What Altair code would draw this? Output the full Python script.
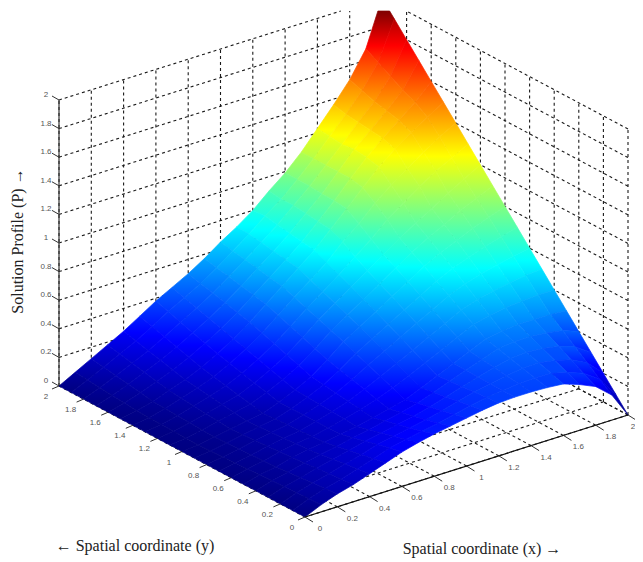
import altair as alt

# axis tick values
ticks = [0, 0.2, 0.4, 0.6, 0.8, 1, 1.2, 1.4, 1.6, 1.8, 2]
tick_text = ["0", "0.2", "0.4", "0.6", "0.8", "1", "1.2", "1.4", "1.6", "1.8", "2"]
# mesh coordinates
mesh_x = [i / 10 for i in range(21)]
mesh_y = [i / 10 for i in range(21)]
# P(x, y): one row per y, one value per x
row_00 = [0, .05, .09, .12, .16, .20, .24, .27, .295, .315, .335, .355, .37, .375, .375, .37, .36, .32, .27, .175, 0]
row_01 = [0, .046, .082, .112, .148, .183, .223, .247, .268, .289, .315, .34, .362, .376, .386, .392, .388, .358, .318, .242, .10]
row_02 = [0, .042, .074, .104, .136, .166, .201, .224, .246, .268, .295, .325, .354, .377, .397, .414, .416, .396, .366, .309, .20]
row_03 = [0, .038, .066, .096, .124, .149, .179, .201, .224, .247, .275, .31, .346, .378, .408, .436, .444, .434, .414, .376, .30]
row_04 = [0, .034, .058, .088, .112, .132, .157, .178, .202, .226, .255, .295, .338, .379, .419, .458, .472, .472, .462, .443, .40]
row_05 = [0, .03, .05, .08, .10, .115, .135, .155, .18, .205, .235, .28, .33, .38, .43, .48, .50, .51, .51, .51, .50]
row_06 = [0, .026, .046, .074, .094, .11, .134, .16, .192, .228, .27, .32, .374, .428, .482, .536, .564, .582, .592, .60, .60]
row_07 = [0, .022, .042, .068, .088, .105, .133, .165, .204, .251, .305, .36, .418, .476, .534, .592, .628, .654, .674, .69, .70]
row_08 = [0, .018, .038, .062, .082, .10, .132, .17, .216, .274, .34, .40, .462, .524, .586, .648, .692, .726, .756, .78, .80]
row_09 = [0, .014, .034, .056, .076, .095, .131, .175, .228, .297, .375, .44, .506, .572, .638, .704, .756, .798, .838, .87, .90]
row_10 = [0, .01, .03, .05, .07, .09, .13, .18, .24, .32, .41, .48, .55, .62, .69, .76, .82, .87, .92, .96, 1.0]
row_11 = [0, .012, .034, .058, .082, .108, .152, .206, .27, .352, .442, .516, .59, .664, .738, .812, .878, .936, 1.0, 1.048, 1.10]
row_12 = [0, .014, .038, .066, .094, .126, .174, .232, .30, .384, .474, .552, .63, .708, .786, .864, .936, 1.002, 1.072, 1.136, 1.20]
row_13 = [0, .016, .042, .074, .106, .144, .196, .258, .33, .416, .506, .588, .67, .76, .85, .95, 1.03, 1.11, 1.18, 1.24, 1.30]
row_14 = [0, .018, .046, .082, .118, .162, .218, .284, .36, .448, .538, .624, .71, .82, .91, 1.02, 1.11, 1.19, 1.27, 1.34, 1.40]
row_15 = [0, .02, .05, .09, .13, .18, .24, .31, .39, .48, .57, .66, .75, .86, .97, 1.08, 1.19, 1.28, 1.36, 1.43, 1.50]
row_16 = [0, .028, .064, .108, .152, .206, .268, .336, .412, .498, .586, .674, .764, .87, .98, 1.10, 1.21, 1.31, 1.40, 1.49, 1.60]
row_17 = [0, .036, .078, .126, .174, .232, .296, .362, .434, .516, .602, .688, .778, .88, .98, 1.10, 1.22, 1.32, 1.42, 1.53, 1.70]
row_18 = [0, .044, .092, .144, .196, .258, .324, .388, .456, .534, .618, .702, .792, .89, .99, 1.10, 1.21, 1.33, 1.44, 1.58, 1.80]
row_19 = [0, .052, .106, .162, .218, .284, .352, .414, .478, .552, .634, .716, .806, .888, .99, 1.10, 1.22, 1.34, 1.47, 1.63, 1.90]
row_20 = [0, .06, .12, .18, .24, .31, .38, .44, .50, .57, .65, .72, .80, .90, .99, 1.10, 1.23, 1.36, 1.50, 1.68, 2.0]
P = [row_00, row_01, row_02, row_03, row_04, row_05, row_06, row_07, row_08, row_09, row_10,
     row_11, row_12, row_13, row_14, row_15, row_16, row_17, row_18, row_19, row_20]

# the jet colormap
jet_at = [0, .25, .75, 1.25, 1.75, 2]
jet_rgb = ["#000080", "#0000ff", "#00ffff", "#ffff00", "#ff0000", "#800000"]


def jet(v):
    v = max(0.0, min(2.0, v))
    for k in range(5):
        if v <= jet_at[k + 1]:
            f = (v - jet_at[k]) / (jet_at[k + 1] - jet_at[k])
            a, b = jet_rgb[k], jet_rgb[k + 1]
            ch = [round(int(a[n:n + 2], 16) * (1 - f) + int(b[n:n + 2], 16) * f) for n in (1, 3, 5)]
            return "#%02x%02x%02x" % tuple(ch)
    return jet_rgb[-1]


def shade(top, bottom):
    """A vertical gradient across one cell, between its highest and lowest corner."""
    stops = [{"offset": 0, "color": jet(top)}]
    lo, hi = min(top, bottom), max(top, bottom)
    if hi > lo:
        for k in jet_at:
            if lo < k < hi:
                stops.append({"offset": (k - top) / (bottom - top), "color": jet(k)})
    stops = sorted(stops, key=lambda s: s["offset"])
    stops.append({"offset": 1, "color": jet(bottom)})
    return {"gradient": "linear", "x1": 0.5, "y1": 0, "x2": 0.5, "y2": 1, "stops": stops}


def view(x, y, z=0.0):
    """Camera of the 3-D axes, mapped to the planar identity projection."""
    return [297 + 161.5 * x - 123 * y, 509 - 51 * x - 65.5 * y - 143 * z]


def poly(points, **props):
    return {"type": "Feature", "properties": props,
            "geometry": {"type": "Polygon", "coordinates": [points + [points[0]]]}}


def line(a, b):
    return {"type": "Feature", "properties": {},
            "geometry": {"type": "LineString", "coordinates": [a, b]}}


def shift(p, dx, dy):
    return [p[0] + dx, p[1] + dy]


# surface cells, back to front
cells = []
order = sorted(((i, j) for i in range(20) for j in range(20)), key=lambda c: -(c[0] + c[1]))
for i, j in order:
    corners = [(i, j), (i + 1, j), (i + 1, j + 1), (i, j + 1)]
    pts = [view(mesh_x[a], mesh_y[b], P[b][a]) for a, b in corners]
    vals = [P[b][a] for a, b in corners]
    top = min(range(4), key=lambda k: pts[k][1])
    bot = max(range(4), key=lambda k: pts[k][1])
    cells.append(poly(pts, g=shade(vals[top], vals[bot])))

# dashed box grid
grid = []
for t in ticks:
    grid.append(line(view(t, 2, 0), view(t, 2, 2)))  # wall y=2, verticals
    grid.append(line(view(2, t, 0), view(2, t, 2)))  # wall x=2, verticals
    grid.append(line(view(0, 2, t), view(2, 2, t)))  # wall y=2, horizontals
    grid.append(line(view(2, 0, t), view(2, 2, t)))  # wall x=2, horizontals
    grid.append(line(view(t, 0, 0), view(t, 2, 0)))  # floor
    grid.append(line(view(0, t, 0), view(2, t, 0)))  # floor

# axis lines and ticks
axes_front = [line(view(0, 0, 0), view(2, 0, 0))]
axes_back = [line(view(0, 2, 0), view(0, 2, 2))]
tick_lines = []
for t in ticks:
    tick_lines.append(line(view(0, 2, t), shift(view(0, 2, t), -7, -4)))
    tick_lines.append(line(view(t, 0, 0), shift(view(t, 0, 0), 8, 5)))
    tick_lines.append(line(view(0, t, 0), shift(view(0, t, 0), -7, 3)))

labels = []
for t, s in zip(ticks, tick_text):
    a = shift(view(0, 2, t), -13, -5)
    labels.append({"lon": a[0], "lat": a[1], "s": s})
    b = shift(view(t, 0, 0), 5 if t == 2 else 15, 12)  # the last one stays inside the page
    labels.append({"lon": b[0], "lat": b[1], "s": s})
    c = shift(view(0, t, 0), -13, 11)
    labels.append({"lon": c[0], "lat": c[1], "s": s})

titles_h = [
    {"lon": 127, "lat": 538, "s": "\u2190 Spatial coordinate (y)"},
    {"lon": 474, "lat": 541, "s": "Spatial coordinate (x) \u2192"},
]
titles_v = [{"lon": 10, "lat": 233, "s": "Solution Profile (P) \u2192"}]

W, H = 627, 552
proj = alt.Projection(type="identity", scale=1, translate=[0, 0], clipExtent=[[0, 3], [W, H]])

grid_layer = alt.Chart(alt.Data(values=grid)).mark_geoshape(
    filled=False, stroke="#1a1a1a", strokeWidth=1.1, strokeDash=[3, 3])
back_layer = alt.Chart(alt.Data(values=axes_back)).mark_geoshape(
    filled=False, stroke="#333333", strokeWidth=1.2)
surface = alt.Chart(alt.Data(values=cells)).mark_geoshape(strokeWidth=0.7).encode(
    fill=alt.Fill("properties.g:N", scale=None),
    stroke=alt.Stroke("properties.g:N", scale=None),
)
front_layer = alt.Chart(alt.Data(values=axes_front)).mark_geoshape(
    filled=False, stroke="#111111", strokeWidth=1.2)
tick_layer = alt.Chart(alt.Data(values=tick_lines)).mark_geoshape(
    filled=False, stroke="#333333", strokeWidth=1)
label_layer = alt.Chart(alt.Data(values=labels)).mark_text(
    font="Liberation Sans", fontSize=8, color="#555555").encode(
    longitude="lon:Q", latitude="lat:Q", text="s:N")
title_h = alt.Chart(alt.Data(values=titles_h)).mark_text(
    font="Liberation Serif", fontSize=16, color="#222222").encode(
    longitude="lon:Q", latitude="lat:Q", text="s:N")
title_v = alt.Chart(alt.Data(values=titles_v)).mark_text(
    font="Liberation Serif", fontSize=16, color="#222222", angle=270).encode(
    longitude="lon:Q", latitude="lat:Q", text="s:N")

chart = alt.layer(
    grid_layer, back_layer, surface, front_layer, tick_layer, label_layer, title_h, title_v
).properties(
    width=W, height=H, projection=proj, autosize="none", padding=0, background="white"
).configure_view(stroke=None)

chart.save("out.html", embed_options={"renderer": "svg", "actions": False})
